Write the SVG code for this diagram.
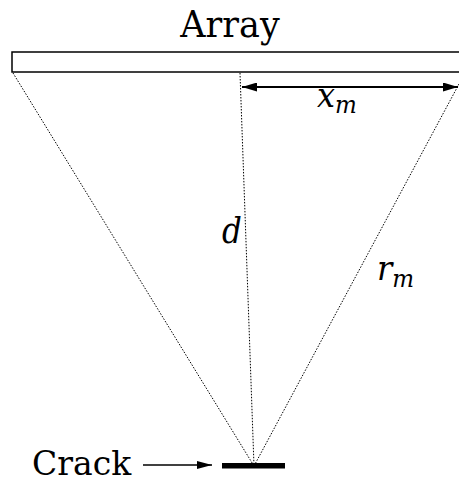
<svg xmlns="http://www.w3.org/2000/svg" width="459" height="483" viewBox="0 0 459 483">
<style>
.dot{stroke:#000;stroke-width:1;stroke-dasharray:1.5 1.5;fill:none}
.t{font-family:"DejaVu Serif","Liberation Serif",serif;fill:#000}
.i{font-family:"DejaVu Serif","Liberation Serif",serif;font-style:italic;fill:#000}
</style>
<defs>
<marker id="ah" viewBox="0 0 15 9" refX="15" refY="4.5" markerWidth="15" markerHeight="9" orient="auto-start-reverse" markerUnits="userSpaceOnUse">
<path d="M0,0 L15,4.5 L0,9 z" fill="#000"/>
</marker>
<marker id="ah2" viewBox="0 0 15 8" refX="15" refY="4" markerWidth="15" markerHeight="8" orient="auto" markerUnits="userSpaceOnUse">
<path d="M0,0 L15,4 L0,8 z" fill="#000"/>
</marker>
</defs>
<g id="array">
<rect x="12" y="52" width="460" height="20" fill="#fff" stroke="#000" stroke-width="1.5"/>
<text class="t" transform="translate(230,37) scale(1,1.08)" font-size="35" text-anchor="middle">Array</text>
</g>
<g id="crack">
<rect x="222" y="463" width="63" height="5.5" fill="#000"/>
<text class="t" x="32" y="475" font-size="33">Crack</text>
</g>
<g id="connectors">
<line class="dot" x1="13" y1="73" x2="254" y2="466"/>
<line class="dot" x1="240" y1="73" x2="254" y2="466"/>
<line class="dot" x1="459" y1="84" x2="254" y2="466"/>
<line x1="242" y1="87" x2="458" y2="87" stroke="#000" stroke-width="2" marker-start="url(#ah)" marker-end="url(#ah)"/>
<line x1="143" y1="465" x2="212" y2="465" stroke="#000" stroke-width="1.3" marker-end="url(#ah2)"/>
</g>
<g id="labels">
<text class="i" transform="translate(317,107) scale(1,1.05)" font-size="32">x<tspan font-size="23" dy="6">m</tspan></text>
<text class="i" transform="translate(222,243) scale(1,1.15)" font-size="31">d</text>
<text class="i" transform="translate(377,280) scale(1,1.05)" font-size="32">r<tspan font-size="23" dy="7">m</tspan></text>
</g>
</svg>
